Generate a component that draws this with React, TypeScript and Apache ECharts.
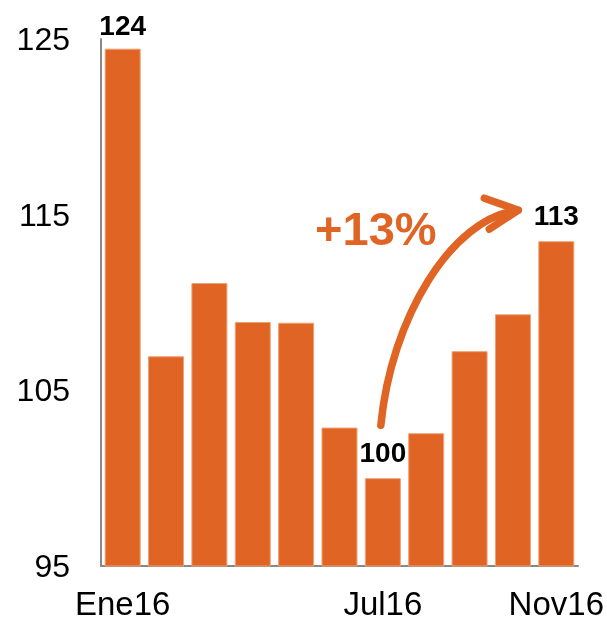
import React, { useEffect, useRef } from "react";
import * as echarts from "echarts";

const categories = ["Ene16", "Feb16", "Mar16", "Abr16", "May16", "Jun16", "Jul16", "Ago16", "Sep16", "Oct16", "Nov16"];
const values = [124.45, 106.94, 111.11, 108.89, 108.85, 102.88, 100.0, 102.56, 107.23, 109.33, 113.49];
const shownXLabels = ["Ene16", "Jul16", "Nov16"];
const labelledBars = [0, 6, 10];
const changeText = "+13%";

const ORANGE = "#E06424";
const FONT = "Liberation Sans, Arial, sans-serif";

export default function App() {
  const ref = useRef<HTMLDivElement>(null);

  useEffect(() => {
    if (!ref.current) return;
    const chart = echarts.init(ref.current, undefined, { renderer: "svg" });
    const data = values.map((v, i) => ({
      value: v,
      label: labelledBars.includes(i)
        ? { show: true, position: "top", distance: i === 0 ? 9 : 12 }
        : { show: false },
    }));
    chart.setOption({
      animation: false,
      grid: { left: 101, right: 29, top: 39, bottom: 57 },
      xAxis: {
        type: "category",
        data: categories,
        axisLine: { lineStyle: { color: "#888888", width: 2 } },
        axisTick: { show: false },
        axisLabel: {
          interval: 0,
          margin: 21,
          color: "#000",
          fontFamily: FONT,
          fontSize: 33,
          formatter: (v: string) => (shownXLabels.includes(v) ? v : ""),
        },
      },
      yAxis: {
        type: "value",
        min: 95,
        max: 125,
        interval: 10,
        axisLine: { show: true, lineStyle: { color: "#888888", width: 2 } },
        axisTick: { show: false },
        splitLine: { show: false },
        axisLabel: { color: "#000", fontFamily: FONT, fontSize: 32, margin: 31 },
      },
      series: [
        {
          type: "bar",
          data,
          barWidth: 36,
          itemStyle: { color: ORANGE, borderColor: "#EFA274", borderWidth: 1 },
          label: {
            color: "#000",
            fontFamily: FONT,
            fontSize: 28,
            fontWeight: "bold",
            formatter: (p: any) => String(Math.round(p.value)),
          },
        },
      ],
    });

    const pJul = chart.convertToPixel({ seriesIndex: 0 }, [6, values[6]]) as number[];
    const pNov = chart.convertToPixel({ seriesIndex: 0 }, [10, values[10]]) as number[];
    const sx = pJul[0] - 2;
    const sy = pJul[1] - 53;
    const ex = pNov[0] - 38;
    const ey = pNov[1] - 31;
    chart.setOption({
      graphic: [
        {
          type: "bezierCurve",
          shape: { x1: sx, y1: sy, cpx1: sx + 10, cpy1: sy - 106, cpx2: sx + 70, cpy2: ey + 8, x2: ex, y2: ey },
          style: { stroke: ORANGE, lineWidth: 7.5, fill: null, lineCap: "round" },
          silent: true,
        },
        {
          type: "polyline",
          shape: { points: [[ex - 34, ey - 12], [ex, ey], [ex - 29, ey + 19]] },
          style: { stroke: ORANGE, lineWidth: 7.5, fill: null, lineCap: "round", lineJoin: "round" },
          silent: true,
        },
        {
          type: "text",
          x: sx - 5,
          y: ey + 18,
          style: {
            text: changeText,
            fill: ORANGE,
            font: `bold 47px ${FONT}`,
            align: "center",
            verticalAlign: "middle",
          },
          silent: true,
        },
      ],
    });

    return () => chart.dispose();
  }, []);

  return <div ref={ref} style={{ position: "fixed", left: 0, top: 0, width: 607, height: 623 }} />;
}
